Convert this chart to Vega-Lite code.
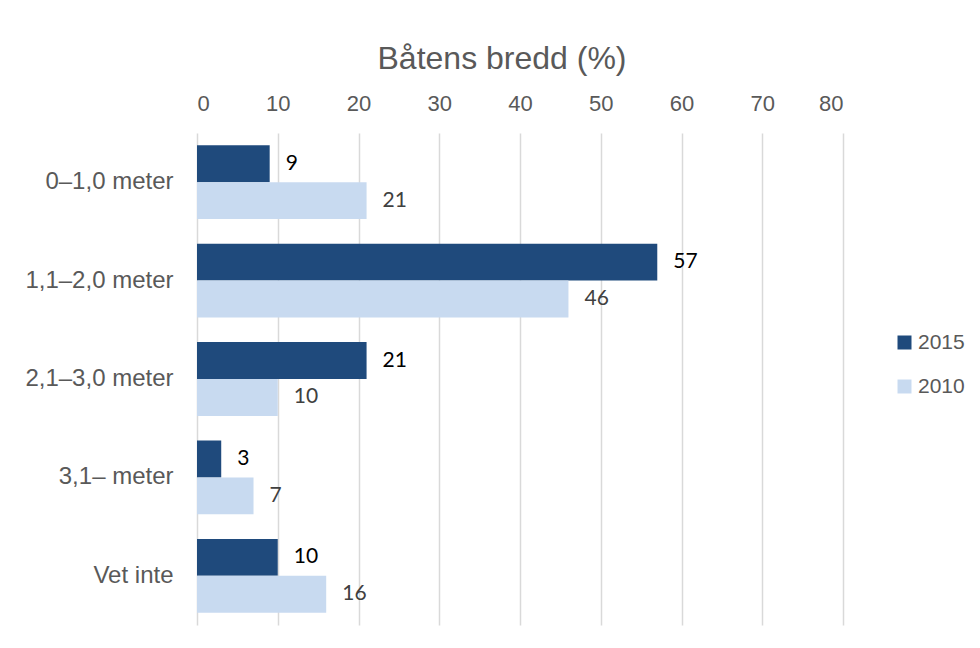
{
  "$schema": "https://vega.github.io/schema/vega-lite/v6.json",
  "width": 646,
  "height": 492,
  "autosize": {"type": "none"},
  "padding": {"left": 197, "top": 133, "right": 137, "bottom": 23},
  "background": "white",
  "title": {
    "text": "Båtens bredd (%)",
    "font": "Liberation Sans",
    "fontSize": 32,
    "fontWeight": "normal",
    "color": "#595959",
    "anchor": "middle",
    "dx": -18,
    "offset": 16
  },
  "data": {
    "values": [
      {"cat": "0–1,0 meter", "year": "2015", "value": 9},
      {"cat": "0–1,0 meter", "year": "2010", "value": 21},
      {"cat": "1,1–2,0 meter", "year": "2015", "value": 57},
      {"cat": "1,1–2,0 meter", "year": "2010", "value": 46},
      {"cat": "2,1–3,0 meter", "year": "2015", "value": 21},
      {"cat": "2,1–3,0 meter", "year": "2010", "value": 10},
      {"cat": "3,1– meter", "year": "2015", "value": 3},
      {"cat": "3,1– meter", "year": "2010", "value": 7},
      {"cat": "Vet inte", "year": "2015", "value": 10},
      {"cat": "Vet inte", "year": "2010", "value": 16}
    ]
  },
  "encoding": {
    "y": {
      "field": "cat",
      "type": "nominal",
      "sort": null,
      "scale": {"paddingInner": 0.25, "paddingOuter": 0.125},
      "axis": {
        "title": null,
        "ticks": false,
        "domain": false,
        "labelFont": "Liberation Sans",
        "labelFontSize": 24,
        "labelColor": "#595959",
        "labelPadding": 24
      }
    },
    "yOffset": {"field": "year", "type": "nominal", "sort": ["2015", "2010"]},
    "x": {
      "field": "value",
      "type": "quantitative",
      "scale": {"domain": [0, 80], "nice": false},
      "axis": {
        "orient": "top",
        "title": null,
        "values": [0, 10, 20, 30, 40, 50, 60, 70, 80],
        "ticks": false,
        "domain": false,
        "grid": true,
        "gridColor": "#d9d9d9",
        "gridWidth": 1.5,
        "labelFont": "Liberation Sans",
        "labelFontSize": 22,
        "labelColor": "#595959",
        "labelPadding": 18
      }
    }
  },
  "layer": [
    {
      "mark": {"type": "bar"},
      "encoding": {
        "color": {
          "field": "year",
          "type": "nominal",
          "scale": {"domain": ["2015", "2010"], "range": ["#1F4A7C", "#C8DAF0"]},
          "legend": {
            "title": null,
            "orient": "none",
            "legendX": 697,
            "legendY": 199,
            "symbolType": "square",
            "symbolSize": 196,
            "symbolStrokeWidth": 0,
            "symbolOpacity": 1,
            "labelFont": "Liberation Sans",
            "labelFontSize": 21,
            "labelColor": "#595959",
            "labelOffset": 3,
            "rowPadding": 22
          }
        }
      }
    },
    {
      "mark": {"type": "text", "align": "left", "baseline": "middle", "dx": 16, "font": "Lato", "fontSize": 21},
      "encoding": {
        "text": {"field": "value", "type": "quantitative"},
        "color": {
          "field": "year",
          "type": "nominal",
          "scale": {"domain": ["2015", "2010"], "range": ["#000000", "#404040"]},
          "legend": null
        }
      }
    }
  ],
  "resolve": {"scale": {"color": "independent"}},
  "config": {"view": {"stroke": null}}
}
